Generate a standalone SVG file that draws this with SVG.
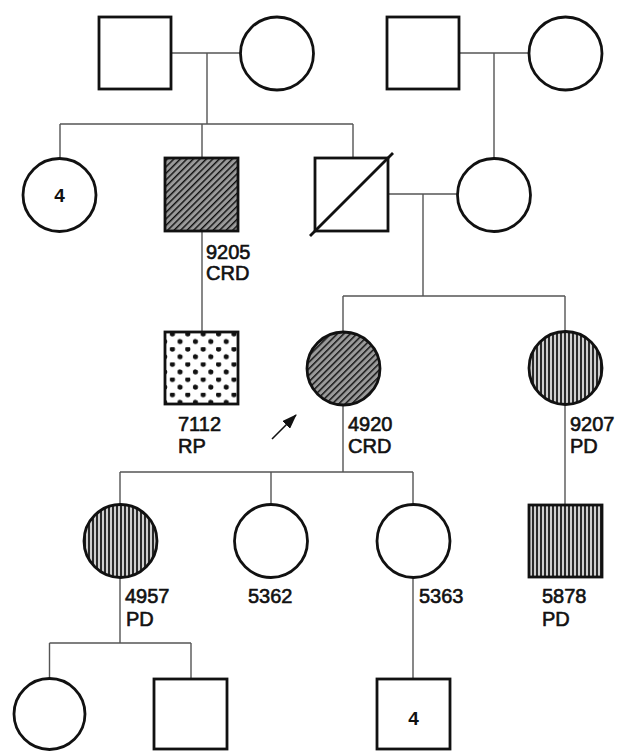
<svg xmlns="http://www.w3.org/2000/svg" width="621" height="751" viewBox="0 0 621 751">
  <defs>
    <!-- diagonal hatch: cone-rod dystrophy -->
    <pattern id="hatch" patternUnits="userSpaceOnUse" width="4.6" height="4.6" patternTransform="rotate(45)">
      <rect width="4.6" height="4.6" fill="#9a9a9a"/>
      <line x1="0" y1="0" x2="0" y2="4.6" stroke="#111" stroke-width="2.9"/>
    </pattern>
    <!-- vertical stripes: pattern dystrophy -->
    <pattern id="vstripe" patternUnits="userSpaceOnUse" width="4" height="10">
      <rect width="4" height="10" fill="#cfcfcf"/>
      <line x1="1" y1="0" x2="1" y2="10" stroke="#222" stroke-width="1.9"/>
    </pattern>
    <!-- staggered dots: retinitis pigmentosa -->
    <pattern id="dots" patternUnits="userSpaceOnUse" x="165" y="332" width="15.4" height="15.2">
      <rect width="15.4" height="15.2" fill="#fff"/>
      <circle cx="7.4" cy="2" r="2.6" fill="#111"/>
      <circle cx="15.1" cy="9.6" r="2.6" fill="#111"/>
      <circle cx="-0.3" cy="9.6" r="2.6" fill="#111"/>
    </pattern>
    <marker id="arrowhead" markerWidth="15" markerHeight="11" refX="14" refY="5.5" orient="auto" markerUnits="userSpaceOnUse">
      <path d="M0,0 L15,5.5 L0,11 Z" fill="#111"/>
    </marker>
  </defs>
  <style>
    .ind { stroke: #111; stroke-width: 2.8; fill: #fff; }
    .link { stroke: #555; stroke-width: 1.4; fill: none; }
    .lbl { font-family: "Liberation Sans", Arial, sans-serif; font-size: 20px; fill: #111; stroke: #111; stroke-width: 0.6; }
    .num { font-family: "Liberation Sans", Arial, sans-serif; font-size: 19px; font-weight: bold; fill: #111; text-anchor: middle; }
  </style>

  <rect width="621" height="751" fill="#fff"/>

  <!-- connectors -->
  <g id="connectors" class="link">
    <!-- generation I, left couple -->
    <path d="M171,53 H241 M207,53 V124 M60,124 H353 M60,124 V158 M202,124 V158 M353,124 V158"/>
    <!-- generation I, right couple -->
    <path d="M459,53 H529 M494,53 V158"/>
    <!-- 9205 to 7112 -->
    <path d="M202,231 V332"/>
    <!-- generation II couple -->
    <path d="M388,194 H458 M423,194 V296 M343,296 H565 M343,296 V332 M565,296 V332"/>
    <!-- 4920 offspring -->
    <path d="M343,405 V472 M120,472 H413 M120,472 V505 M271,472 V505 M413,472 V505"/>
    <!-- 9207 to 5878 -->
    <path d="M565,404 V505"/>
    <!-- 4957 offspring -->
    <path d="M120,577 V643 M49.5,643 H191 M49.5,643 V679 M191,643 V679"/>
    <!-- 5363 offspring -->
    <path d="M413,577 V679"/>
  </g>

  <!-- generation I -->
  <g id="gf-paternal"><rect class="ind" x="99" y="17" width="72" height="72"/></g>
  <g id="gm-paternal"><circle class="ind" cx="277" cy="53.5" r="36.5"/></g>
  <g id="gf-maternal"><rect class="ind" x="387" y="17" width="72" height="72"/></g>
  <g id="gm-maternal"><circle class="ind" cx="565.5" cy="53.5" r="36.5"/></g>

  <!-- generation II -->
  <g id="sisters-4">
    <circle class="ind" cx="59.5" cy="195" r="36.5"/>
    <text class="num" x="59.5" y="202">4</text>
  </g>
  <g id="p9205">
    <rect class="ind" x="165" y="158" width="73" height="73" style="fill:url(#hatch)"/>
    <text class="lbl" x="206" y="259">9205</text>
    <text class="lbl" x="206" y="280">CRD</text>
  </g>
  <g id="father">
    <rect class="ind" x="315" y="158" width="73" height="73"/>
    <line x1="310" y1="236" x2="393" y2="153" stroke="#111" stroke-width="2.8"/>
  </g>
  <g id="mother"><circle class="ind" cx="494" cy="195" r="36.5"/></g>

  <!-- generation III -->
  <g id="p7112">
    <rect class="ind" x="165" y="332" width="73" height="72" style="fill:url(#dots)"/>
    <text class="lbl" x="178" y="431">7112</text>
    <text class="lbl" x="178" y="453">RP</text>
  </g>
  <g id="p4920">
    <circle class="ind" cx="343.5" cy="368.5" r="36.5" style="fill:url(#hatch)"/>
    <text class="lbl" x="348" y="431">4920</text>
    <text class="lbl" x="348" y="453">CRD</text>
  </g>
  <g id="proband-arrow">
    <line x1="272" y1="439" x2="296" y2="415" stroke="#111" stroke-width="1.6" marker-end="url(#arrowhead)"/>
  </g>
  <g id="p9207">
    <circle class="ind" cx="565.5" cy="368" r="36.5" style="fill:url(#vstripe)"/>
    <text class="lbl" x="570" y="431">9207</text>
    <text class="lbl" x="570" y="453">PD</text>
  </g>

  <!-- generation IV -->
  <g id="p4957">
    <circle class="ind" cx="120.5" cy="541" r="36.5" style="fill:url(#vstripe)"/>
    <text class="lbl" x="125" y="603">4957</text>
    <text class="lbl" x="126" y="626">PD</text>
  </g>
  <g id="p5362">
    <circle class="ind" cx="271" cy="541" r="36.5"/>
    <text class="lbl" x="248" y="603">5362</text>
  </g>
  <g id="p5363">
    <circle class="ind" cx="413.5" cy="541" r="36.5"/>
    <text class="lbl" x="419" y="603">5363</text>
  </g>
  <g id="p5878">
    <rect class="ind" x="529" y="505" width="73" height="72" style="fill:url(#vstripe)"/>
    <text class="lbl" x="542" y="603">5878</text>
    <text class="lbl" x="542" y="626">PD</text>
  </g>

  <!-- generation V -->
  <g id="daughter-4957"><circle class="ind" cx="49.5" cy="714" r="35.5"/></g>
  <g id="son-4957"><rect class="ind" x="154" y="679" width="73" height="70"/></g>
  <g id="sons-5363-4">
    <rect class="ind" x="377" y="679" width="73" height="70"/>
    <text class="num" x="413.5" y="725">4</text>
  </g>
</svg>
